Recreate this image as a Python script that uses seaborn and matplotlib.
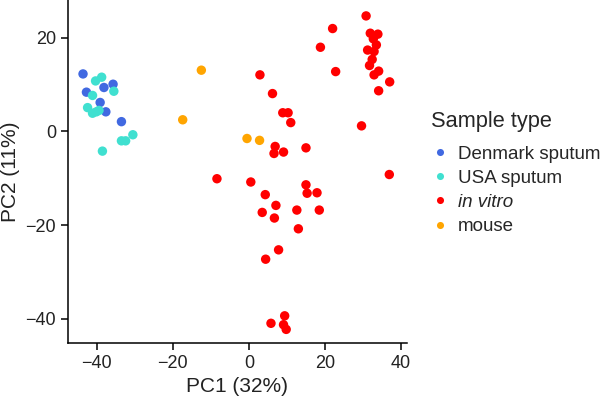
import pandas as pd
import matplotlib.pyplot as plt
import seaborn as sns

# --- PCA coordinates ---
denmark_pc1 = [-43.6, -35.7, -38.1, -42.7, -39.1, -37.6, -33.5]
denmark_pc2 = [12.3, 10.1, 9.4, 8.4, 6.2, 4.2, 2.1]

usa_pc1 = [-38.7, -40.3, -35.5, -41.1, -42.4, -41.1, -39.4, -40.1, -30.5, -32.4, -33.5, -38.5]
usa_pc2 = [11.6, 10.8, 8.6, 7.7, 5.1, 3.9, 4.5, 4.2, -0.7, -2.0, -2.0, -4.2]

invitro_pc1 = [2.9, 6.2, 8.9, 10.3, 11.0, 6.9, 6.6, 9.1, 15.0, -8.4, 0.5, 4.3, 7.1, 3.5, 6.7,
               12.6, 13.0, 7.8, 4.4, 15.0, 15.3, 36.9, 17.9, 18.5, 5.8, 9.4, 9.1, 9.8,
               30.8, 22.0, 31.9, 33.9, 32.7, 33.5, 18.8, 31.2, 32.9, 32.4, 31.7, 22.8,
               34.1, 32.9, 37.0, 34.1, 29.6]
invitro_pc2 = [12.1, 8.1, 4.0, 4.0, 1.9, -3.2, -4.7, -4.4, -3.5, -10.1, -10.8, -13.5, -15.8,
               -17.3, -18.5, -16.8, -20.8, -25.3, -27.3, -11.4, -13.2, -9.2, -13.1, -16.8,
               -41.0, -39.4, -41.3, -42.3, 24.7, 22.0, 21.0, 20.8, 19.8, 18.5, 18.0, 17.4,
               17.1, 15.4, 14.1, 12.8, 12.9, 12.1, 10.6, 8.7, 1.2]

mouse_pc1 = [-12.5, -17.4, -0.5, 2.8]
mouse_pc2 = [13.1, 2.5, -1.5, -1.9]

groups = ["Denmark sputum", "USA sputum", "in vitro", "mouse"]
palette = {"Denmark sputum": "#4169e1", "USA sputum": "#40e0d0",
           "in vitro": "#ff0000", "mouse": "#ffa500"}

df = pd.concat([
    pd.DataFrame({"PC1": denmark_pc1, "PC2": denmark_pc2, "Sample type": groups[0]}),
    pd.DataFrame({"PC1": usa_pc1, "PC2": usa_pc2, "Sample type": groups[1]}),
    pd.DataFrame({"PC1": invitro_pc1, "PC2": invitro_pc2, "Sample type": groups[2]}),
    pd.DataFrame({"PC1": mouse_pc1, "PC2": mouse_pc2, "Sample type": groups[3]}),
], ignore_index=True)

sns.set_style("ticks")
plt.rcParams["font.family"] = ["Liberation Sans", "DejaVu Sans"]

fig = plt.figure(figsize=(6, 4.03), dpi=100)
ax = fig.add_axes([0.113, 0.149, 0.565, 0.851])

sns.scatterplot(data=df, x="PC1", y="PC2", hue="Sample type", hue_order=groups,
                palette=palette, s=46, linewidth=0, ax=ax)

ax.set_xlim(-47.6, 41.5)
ax.set_ylim(-45.2, 28.1)
ax.set_xticks([-40, -20, 0, 20, 40])
ax.set_yticks([-40, -20, 0, 20])
ax.tick_params(labelsize=13, length=5, width=1.1, color="black", labelcolor="#222222")
for side in ["left", "bottom"]:
    ax.spines[side].set_linewidth(1.1)
    ax.spines[side].set_color("black")
sns.despine(ax=ax)
ax.set_xlabel("PC1 (32%)", fontsize=15, color="#222222")
ax.set_ylabel("PC2 (11%)", fontsize=15, color="#222222")

leg = ax.legend(title="Sample type", loc="upper left", bbox_to_anchor=(0.712, 0.735),
                bbox_transform=fig.transFigure, frameon=False, fontsize=13.5,
                title_fontsize=15.7, handlelength=1.0, handletextpad=0.45,
                labelspacing=0.38, markerscale=0.75, borderaxespad=0, borderpad=0.2)
leg._legend_box.align = "left"
leg._legend_box.sep = 10
for t in leg.get_texts():
    if t.get_text() == "in vitro":
        t.set_style("italic")

fig.savefig("out.png", dpi=100)
